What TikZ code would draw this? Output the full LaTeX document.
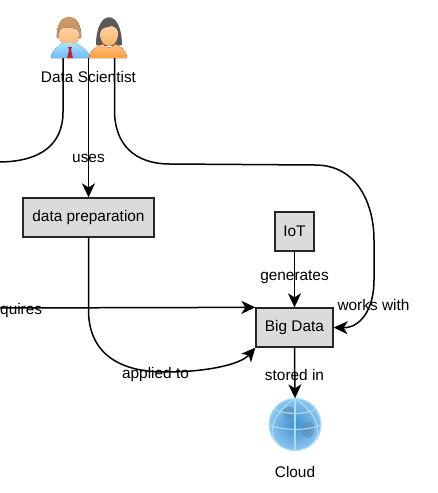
\documentclass[tikz,border=0pt]{standalone}
\usepackage{fontspec}
\setmainfont{Liberation Sans}
\usetikzlibrary{arrows.meta}
\definecolor{globeA}{HTML}{3F8FD2}
\definecolor{globeB}{HTML}{8CC6EE}
\definecolor{globeL}{HTML}{A9DCF7}
\definecolor{globeD}{HTML}{5E87AE}
\tikzset{
  box/.style={draw=black!85,line width=1.3pt,fill=black!14,inner sep=0pt,font=\fontsize{15.4}{17}\selectfont},
  lab/.style={inner sep=0pt,font=\fontsize{15.4}{17}\selectfont,text=black},
  conn/.style={draw=black,line width=1.5pt,-{Stealth[length=14pt,width=13pt,inset=4pt]}},
  plain/.style={draw=black,line width=1.5pt},
}
\begin{document}
\begin{tikzpicture}[x=1pt,y=-1pt]
\useasboundingbox (0,0) rectangle (437,493);
\clip (0,0) rectangle (437,493);
% man
\fill[top color=brown!70!orange!80!white,bottom color=brown!80!black!70!white] (57,38) .. controls (55,10) and (83,10) .. (81,38) -- cycle;
\fill[top color=orange!35!white,bottom color=orange!60!white] (59,34) .. controls (60,26) and (66,27) .. (72,28) .. controls (77,29) and (79,30) .. (79,34) .. controls (79,50) and (59,50) .. (59,34) -- cycle;
\fill[top color=blue!30!cyan!35!white,bottom color=blue!50!cyan!55!white] (51,58) .. controls (52,49) and (59,46) .. (63,43) -- (75,43) .. controls (81,46) and (88,49) .. (90,58) -- cycle;
\fill[red!70!black!85] (68,47) -- (72,47) -- (71,50) -- (73,58) -- (67,58) -- (69,50) -- cycle;
% woman
\fill[black!65] (96,45) .. controls (96,8) and (122,8) .. (122,45) -- (116,46) -- (102,46) -- cycle;
\fill[top color=orange!35!white,bottom color=orange!65!white] (100,34) .. controls (101,26) and (107,28) .. (112,26) .. controls (117,28) and (118,30) .. (118,34) .. controls (118,50) and (100,50) .. (100,34) -- cycle;
\fill[top color=orange!50!white,bottom color=orange!75!white] (89,58) .. controls (90,49) and (98,46) .. (103,44) .. controls (105,49) and (113,49) .. (115,44) .. controls (120,46) and (126,49) .. (127,58) -- cycle;
\coordinate (manl) at (63,58);
\coordinate (manr) at (88.5,58);
\coordinate (wom) at (114.5,58);
\coordinate (offl) at (-2,162);
\coordinate (offr) at (-2,308);
% boxes
\node[box,minimum width=131pt,minimum height=39pt] (prep) at (88.5,217.5) {data preparation};
\node[box,minimum width=39pt,minimum height=39pt] (iot) at (294.5,231.5) {IoT};
\node[box,minimum width=77pt,minimum height=39pt] (big) at (294.5,327.5) {Big Data};
% globe
\shade[inner color=globeA,outer color=globeB] (295,424.5) circle (26);
\node[circle,inner sep=0pt,minimum size=52pt] (cloud) at (295,424.5) {};
\fill[globeD,opacity=.55] (282,410) .. controls (290,404) and (298,408) .. (296,416) .. controls (288,422) and (284,418) .. (282,410) -- cycle;
\fill[globeD,opacity=.55] (302,424) .. controls (312,418) and (318,424) .. (312,436) .. controls (306,442) and (300,434) .. (302,424) -- cycle;
\begin{scope}[draw=globeL,line width=1.1pt]
\draw (295,424.5) circle (26);
\draw (269,424.5) .. controls (280,431) and (310,431) .. (321,424.5);
\draw (295,398.5) -- (295,450.5);
\draw (295,398.5) .. controls (270,415) and (268,435) .. (278,444);
\draw (295,398.5) .. controls (320,415) and (322,435) .. (312,444);
\draw (274,409) .. controls (285,415) and (305,415) .. (316,409);
\end{scope}
% connectors
\draw[plain] (manl) -- (63,112) .. controls (63,145) and (40,162) .. (offl);
\draw[conn] (manr) -- (prep.north);
\draw[conn] (wom) -- (114.5,110) .. controls (114.5,145) and (135,164) .. (170,164) -- (315,165) .. controls (358,165) and (374,205) .. (374,240) -- (374,280) .. controls (374,310) and (360,328) .. (big.east);
\draw[conn] (iot.south) -- (big.north);
\draw[conn] (offr) -- (big.north west);
\draw[conn] (prep.south) -- (88.5,310) .. controls (88.5,350) and (115,372) .. (165,372) .. controls (205,372) and (240,365) .. (big.south west);
\draw[conn] (big.south) -- (cloud.north);
% labels
\node[lab] (t1) at (88.5,76.5) {Data Scientist};
\node[lab] (t2) at (88.5,158.5) {uses};
\node[lab,anchor=west] (t3) at (0,310.5) {quires};
\node[lab] (t4) at (155.5,374.5) {applied to};
\node[lab] (t5) at (294.5,277.5) {generates};
\node[lab] (t6) at (373.5,304.5) {works with};
\node[lab] (t7) at (294.5,374.5) {stored in};
\node[lab] (t8) at (295,471.5) {Cloud};
\end{tikzpicture}
\end{document}
